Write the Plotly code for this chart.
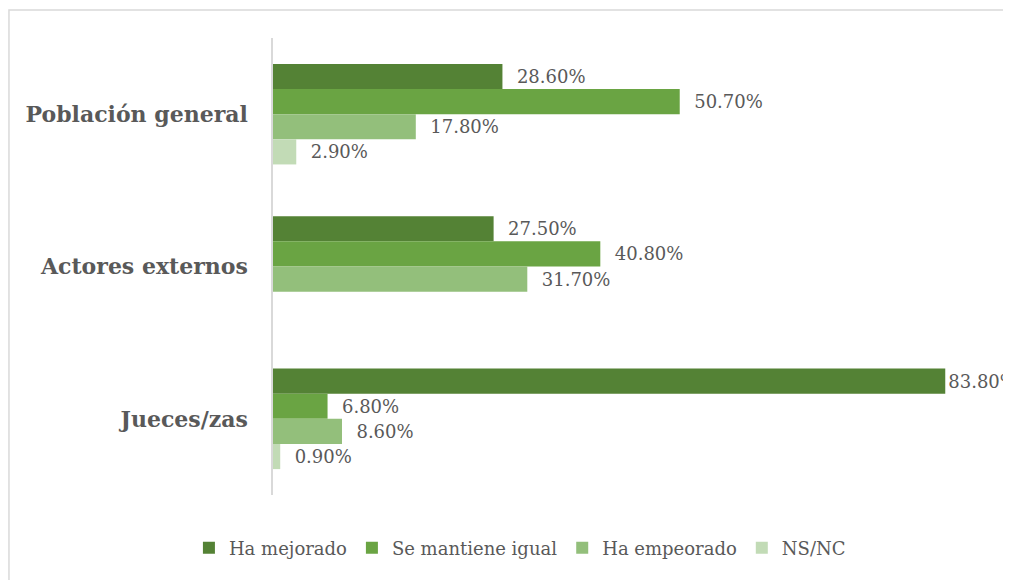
import plotly.graph_objects as go

# Data
categorias = ["Población general", "Actores externos", "Jueces/zas"]
series = ["Ha mejorado", "Se mantiene igual", "Ha empeorado", "NS/NC"]
ha_mejorado = [28.6, 27.5, 83.8]
se_mantiene = [50.7, 40.8, 6.8]
ha_empeorado = [17.8, 31.7, 8.6]
ns_nc = [2.9, None, 0.9]

valores = [ha_mejorado, se_mantiene, ha_empeorado, ns_nc]
colores = ["#548235", "#6aa443", "#93bf7b", "#c2dbb6"]

FONT = "DejaVu Serif"
GRIS = "#595959"


def etiqueta(v):
    # long bars get their label right at the end, the rest a small gap
    if v is None:
        return None
    pad = "" if v > 80 else "\u00a0\u00a0"
    return f"{pad}{v:.2f}%"


fig = go.Figure()

for nombre, vals, color in zip(series, valores, colores):
    fig.add_trace(go.Bar(
        y=categorias,
        x=vals,
        name=nombre,
        orientation="h",
        marker=dict(color=color, line=dict(width=0)),
        text=[etiqueta(v) for v in vals],
        textposition="outside",
        textfont=dict(family=FONT, size=18, color=GRIS),
        cliponaxis=False,
        hoverinfo="skip",
    ))

fig.update_layout(
    width=1003, height=572,
    barmode="group",
    bargap=0.34,
    bargroupgap=0,
    plot_bgcolor="white",
    paper_bgcolor="white",
    margin=dict(l=265, r=16, t=30, b=85),
    font=dict(family=FONT, color=GRIS),
    legend=dict(
        orientation="h",
        x=0.342, xanchor="center",
        y=-0.116, yanchor="middle",
        font=dict(family=FONT, size=18, color=GRIS),
        itemwidth=30,
        traceorder="normal",
    ),
    xaxis=dict(
        range=[0, 90],
        showgrid=False,
        zeroline=False,
        showticklabels=False,
        showline=False,
    ),
    yaxis=dict(
        autorange="reversed",
        showline=True,
        linecolor="#d9d9d9",
        linewidth=1.5,
        ticks="",
        ticklabelstandoff=19,
        tickfont=dict(family=FONT, size=22, color=GRIS, weight="bold"),
    ),
    shapes=[dict(
        type="rect", xref="paper", yref="paper",
        x0=-0.3657, x1=1.2, y0=-0.4, y1=1.0613,
        line=dict(color="#d9d9d9", width=1.5),
        fillcolor="rgba(0,0,0,0)",
        layer="below",
    )],
)

fig.write_html("out.html")
